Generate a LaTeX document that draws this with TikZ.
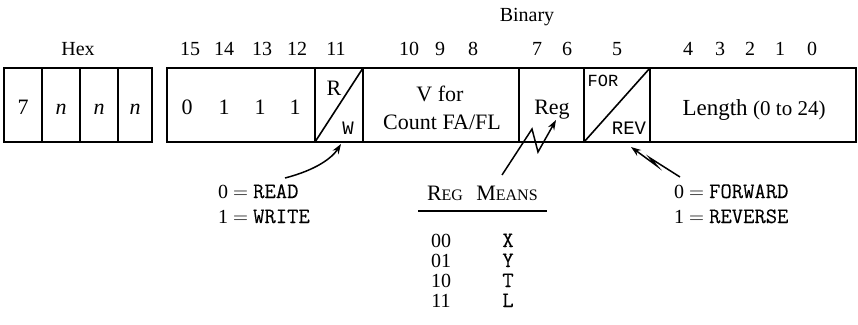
\documentclass[tikz,border=0pt]{standalone}
\usepackage{fontspec}
\setmainfont{Liberation Serif}
\newfontfamily\monof[FakeBold=0.1]{Latin Modern Mono}
\newfontfamily\smonof{Liberation Mono}
\usetikzlibrary{arrows.meta}
\begin{document}
\begin{tikzpicture}[x=1pt,y=-1pt,
  boxline/.style={line width=1.6pt},
  lbl/.style={font=\fontsize{20}{20}\selectfont, inner sep=0pt, anchor=base},
  fld/.style={font=\fontsize{22}{22}\selectfont, inner sep=0pt, anchor=base},
  mono/.style={font=\fontsize{22}{22}\selectfont\monof, inner sep=0pt, anchor=base},
  smono/.style={font=\fontsize{19}{19}\selectfont\smonof, inner sep=0pt, anchor=base},
  arr/.style={line width=1.5pt, -{Stealth[length=10pt,width=7pt]}}]
\useasboundingbox (0,0) rectangle (858,324);
% boxes
\draw[boxline] (4,68) rectangle (152,142);
\foreach \x in {42,80,118} \draw[boxline] (\x,68) -- (\x,142);
\draw[boxline] (167,68) rectangle (856,142);
\foreach \x in {315,363,519,584,650} \draw[boxline] (\x,68) -- (\x,142);
\draw[boxline] (315,142) -- (363,68);
\draw[boxline] (584,142) -- (650,68);
% headers
\node[lbl] (hex) at (78,55) {Hex};
\node[lbl] (bin) at (527,21) {Binary};
\foreach \n/\x in {15/190,14/224,13/262,12/297,11/336,10/409,9/440,8/473,7/537,6/567,5/617,4/688,3/720,2/750,1/780,0/812}
  \node[lbl] (b\n) at (\x,55) {\n};
% field contents
\node[fld] (h7) at (23,114) {7};
\node[fld] (h1) at (61,114) {\itshape n};
\node[fld] (h2) at (99,114) {\itshape n};
\node[fld] (h3) at (135,114) {\itshape n};
\node[fld] (o0) at (187,114) {0};
\node[fld] (o1) at (224,114) {1};
\node[fld] (o2) at (260,114) {1};
\node[fld] (o3) at (295,114) {1};
\node[fld] (rr) at (334,95) {R};
\node[smono] (ww) at (348,134) {W};
\node[fld] (vf) at (440,101) {V for};
\node[fld] (cf) at (442,129) {Count FA/FL};
\node[fld] (reg) at (552,114) {Reg};
\node[smono, font=\fontsize{17}{17}\selectfont\smonof] (for) at (603,86) {FOR};
\node[smono] (rev) at (629,134) {REV};
\node[fld] (len) at (754,115) {{\fontsize{23}{23}\selectfont Length} {\fontsize{21}{21}\selectfont(0 to 24)}};
% bottom-left legend
\node[lbl, anchor=base west] (rd) at (218,198) {0 $=$ {\fontsize{22}{22}\selectfont\monof READ}};
\node[lbl, anchor=base west] (wr) at (218,223) {1 $=$ {\fontsize{22}{22}\selectfont\monof WRITE}};
% table
\node[lbl] (th1) at (445,200) {{\fontsize{22}{22}\selectfont R}{\fontsize{16}{16}\selectfont EG}};
\node[lbl] (th2) at (507,200) {{\fontsize{22}{22}\selectfont M}{\fontsize{16}{16}\selectfont EANS}};
\draw[line width=1.2pt] (418,211) -- (547,211);
\foreach \r/\v/\y in {00/X/247,01/Y/267,10/T/287,11/L/307}{
  \node[lbl] (r\r) at (441,\y) {\r};
  \node[mono] (v\r) at (508,\y) {\v};
}
% bottom-right legend
\node[lbl, anchor=base west] (fw) at (674,198) {0 $=$ {\fontsize{22}{22}\selectfont\monof FORWARD}};
\node[lbl, anchor=base west] (rv) at (674,223) {1 $=$ {\fontsize{22}{22}\selectfont\monof REVERSE}};
% arrows
\coordinate (wS) at (285,178);
\coordinate (wT) at (341,144);
\draw[arr] (wS) .. controls (316,170) and (332,158) .. (wT);
\coordinate (gS) at (502,175);
\coordinate (g1) at (532,129);
\coordinate (g2) at (538,152);
\coordinate (gT) at (556,120);
\draw[arr] (gS) -- (g1) -- (g2) -- (gT);
\coordinate (fS) at (680,177);
\coordinate (f1) at (650,158);
\coordinate (f2) at (657,166);
\coordinate (fT) at (631,147);
\draw[arr] (fS) -- (f1) -- (f2) -- (fT);
\end{tikzpicture}
\end{document}
